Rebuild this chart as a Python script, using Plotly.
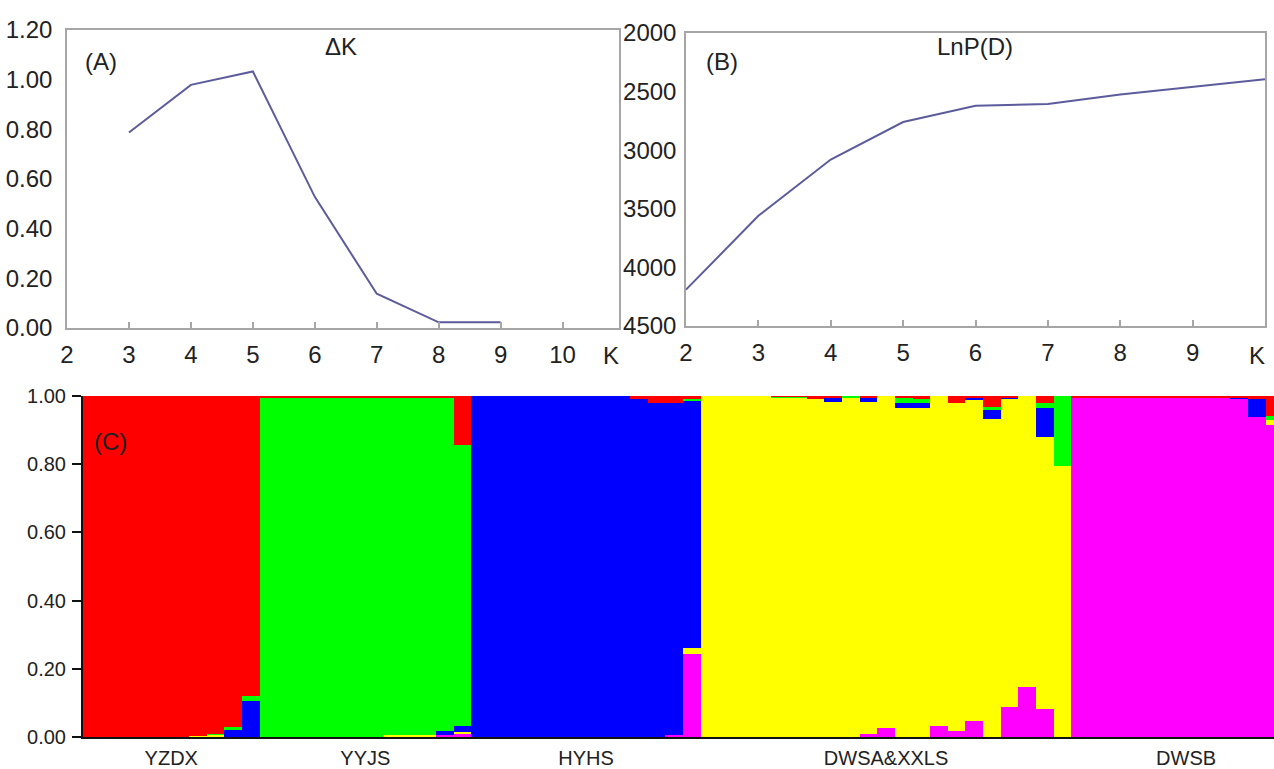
import plotly.graph_objects as go

# ---------------- data ----------------
K_A = [3, 4, 5, 6, 7, 8, 9]
deltaK = [0.787, 0.979, 1.033, 0.528, 0.138, 0.023, 0.023]

K_B = [2, 3, 4, 5, 6, 7, 8, 9, 10]
lnPD = [4190, 3560, 3080, 2760, 2620, 2605, 2525, 2460, 2395]

groups = ["YZDX", "YYJS", "HYHS", "DWSA&XXLS", "DWSB"]
group_sizes = [10, 12, 13, 21, 13]

# membership coefficients, stacked bottom -> top: magenta, yellow, blue, green, red
magenta = [0, 0, 0, 0, 0, 0, 0, 0, 0, 0,
           0, 0, 0, 0, 0, 0, 0, 0, 0, 0, 0.006, 0.01,
           0, 0, 0, 0, 0, 0, 0, 0, 0, 0, 0, 0.005, 0.243,
           0, 0, 0, 0, 0, 0, 0, 0, 0, 0.008, 0.026, 0, 0, 0.032, 0.018, 0.046, 0, 0.087, 0.146, 0.081, 0,
           0.996, 0.996, 0.996, 0.996, 0.996, 0.996, 0.996, 0.996, 0.996, 0.99, 0.938, 0.915, 1.0]
yellow = [0, 0, 0, 0, 0, 0, 0.004, 0.006, 0, 0,
          0, 0, 0, 0, 0, 0, 0, 0.006, 0.006, 0.006, 0, 0.006,
          0, 0, 0, 0, 0, 0, 0, 0, 0, 0, 0, 0, 0.017,
          1, 1, 1, 1, 0.995, 0.995, 0.99, 0.982, 0.995, 0.974, 0.974, 0.965, 0.965, 0.968, 0.962, 0.942, 0.932, 0.903, 0.854, 0.799, 0.795,
          0, 0, 0, 0, 0, 0, 0, 0, 0, 0, 0, 0.015, 0]
blue = [0, 0, 0, 0, 0, 0, 0, 0, 0.022, 0.105,
        0, 0, 0, 0, 0, 0, 0, 0, 0, 0, 0.012, 0.016,
        1, 1, 1, 1, 1, 1, 1, 1, 1, 0.99, 0.98, 0.975, 0.726,
        0, 0, 0, 0, 0, 0, 0, 0.012, 0, 0.012, 0, 0.015, 0.015, 0, 0, 0.008, 0.027, 0.006, 0, 0.085, 0,
        0, 0, 0, 0, 0, 0, 0, 0, 0, 0.006, 0.052, 0, 0]
green = [0, 0, 0, 0, 0, 0, 0, 0.004, 0.006, 0.015,
         0.996, 0.996, 0.996, 0.996, 0.996, 0.996, 0.996, 0.99, 0.99, 0.99, 0.978, 0.823,
         0, 0, 0, 0, 0, 0, 0, 0, 0, 0, 0, 0, 0.004,
         0, 0, 0, 0, 0.003, 0.003, 0, 0, 0.005, 0, 0, 0.015, 0.012, 0, 0, 0, 0.009, 0, 0, 0.015, 0.205,
         0, 0, 0, 0, 0, 0, 0, 0, 0, 0, 0, 0.01, 0]
red = [1, 1, 1, 1, 1, 1, 0.996, 0.99, 0.972, 0.88,
       0.004, 0.004, 0.004, 0.004, 0.004, 0.004, 0.004, 0.004, 0.004, 0.004, 0.004, 0.145,
       0, 0, 0, 0, 0, 0, 0, 0, 0, 0.01, 0.02, 0.02, 0.01,
       0, 0, 0, 0, 0.002, 0.002, 0.01, 0.006, 0, 0.006, 0, 0.005, 0.008, 0, 0.02, 0.004, 0.032, 0.004, 0, 0.02, 0,
       0.004, 0.004, 0.004, 0.004, 0.004, 0.004, 0.004, 0.004, 0.004, 0.004, 0.01, 0.06, 0]

clusters = [("magenta", magenta, "#ff00ff"), ("yellow", yellow, "#ffff00"),
            ("blue", blue, "#0000ff"), ("green", green, "#00ff00"), ("red", red, "#ff0000")]

xlabelsA = [2, 3, 4, 5, 6, 7, 8, 9, 10]
xlabelsB = [2, 3, 4, 5, 6, 7, 8, 9]
ylabelsA = [0, 0.2, 0.4, 0.6, 0.8, 1.0, 1.2]
ylabelsB = [2000, 2500, 3000, 3500, 4000, 4500]
ylabelsC = [0, 0.2, 0.4, 0.6, 0.8, 1.0]

# ---------------- figure ----------------
W, H = 1274, 769
FONT = "Liberation Sans, Arial, sans-serif"
LINE = "#5c5c9c"
GRAYAX = "#a6a6a6"

def px(x):
    return x / W

def py(y):
    return 1 - y / H

n = sum(group_sizes)
xs = list(range(n))
starts = [sum(group_sizes[:i]) for i in range(len(group_sizes))]
centers = [s + (g - 1) / 2 for s, g in zip(starts, group_sizes)]

fig = go.Figure()

fig.add_trace(go.Scatter(x=K_A, y=deltaK, mode="lines", line=dict(color=LINE, width=2),
                         xaxis="x", yaxis="y", showlegend=False))
fig.add_trace(go.Scatter(x=K_B, y=lnPD, mode="lines", line=dict(color=LINE, width=2),
                         xaxis="x2", yaxis="y2", showlegend=False))
for name, vals, col in clusters:
    fig.add_trace(go.Bar(x=xs, y=vals, name=name, marker=dict(color=col, line=dict(width=0)),
                         xaxis="x3", yaxis="y3", showlegend=False, width=1.0))

tickfontAB = dict(family=FONT, size=24, color="#222222")
tickfontC = dict(family=FONT, size=20, color="#222222")

fig.update_layout(
    width=W, height=H,
    template="none",
    margin=dict(l=0, r=0, t=0, b=0, autoexpand=False),
    paper_bgcolor="white", plot_bgcolor="white",
    barmode="stack", bargap=0,
    font=dict(family=FONT, color="#222222"),
    xaxis=dict(domain=[px(67), px(619)], range=[2, 10.91], anchor="y", automargin=False,
               tickvals=xlabelsA, ticks="inside", ticklen=6,
               tickcolor=GRAYAX, tickwidth=1.5, showgrid=False, zeroline=False,
               showline=True, linecolor=GRAYAX, linewidth=1.5, mirror=True,
               tickfont=tickfontAB, ticklabelstandoff=4),
    yaxis=dict(domain=[py(328), py(30)], range=[0, 1.2], anchor="x", automargin=False,
               tickvals=ylabelsA, tickformat=".2f", ticks="", showgrid=False, zeroline=False,
               showline=True, linecolor=GRAYAX, linewidth=1.5, mirror=True,
               tickfont=tickfontAB, ticklabelstandoff=8),
    xaxis2=dict(domain=[px(686), px(1265)], range=[2, 10], anchor="y2", automargin=False,
                tickvals=xlabelsB, ticks="inside", ticklen=6, tickcolor=GRAYAX, tickwidth=1.5,
                showgrid=False, zeroline=False,
                showline=True, linecolor=GRAYAX, linewidth=1.5, mirror=True,
                tickfont=tickfontAB, ticklabelstandoff=4),
    yaxis2=dict(domain=[py(326), py(33)], range=[4500, 2000], anchor="x2", automargin=False,
                tickvals=ylabelsB, ticks="", showgrid=False, zeroline=False,
                showline=True, linecolor=GRAYAX, linewidth=1.5, mirror=True,
                tickfont=tickfontAB, ticklabelstandoff=3),
    xaxis3=dict(domain=[px(83), 1.0], range=[-0.5, 66.98], anchor="y3", automargin=False,
                tickvals=centers, ticktext=groups, ticks="", showgrid=False, zeroline=False,
                showline=True, linecolor="#111111", linewidth=2,
                tickfont=dict(family=FONT, size=20, color="#222222"), ticklabelstandoff=2),
    yaxis3=dict(domain=[py(737), py(396)], range=[0, 1.0], anchor="x3", automargin=False,
                tickvals=ylabelsC, tickformat=".2f", ticks="outside", ticklen=9,
                tickcolor="#111111", tickwidth=2, showgrid=False, zeroline=False,
                showline=True, linecolor="#111111", linewidth=2,
                tickfont=tickfontC, ticklabelstandoff=2),
)

ann_font = dict(family=FONT, size=24, color="#222222")
annotations = [
    dict(text="(A)", x=px(101), y=py(62)),
    dict(text="ΔK", x=px(341), y=py(47)),
    dict(text="(B)", x=px(722), y=py(62)),
    dict(text="LnP(D)", x=px(975), y=py(47)),
    dict(text="(C)", x=px(110), y=py(441)),
    dict(text="K", x=px(611), y=py(355)),
    dict(text="K", x=px(1257), y=py(355)),
]
for a in annotations:
    fig.add_annotation(xref="paper", yref="paper", showarrow=False, font=ann_font,
                       xanchor="center", yanchor="middle", **a)

fig.write_html("out.html",
               config={"displayModeBar": False},
               post_script="document.body.style.margin='0px';"
                           "document.documentElement.style.overflow='hidden';")
